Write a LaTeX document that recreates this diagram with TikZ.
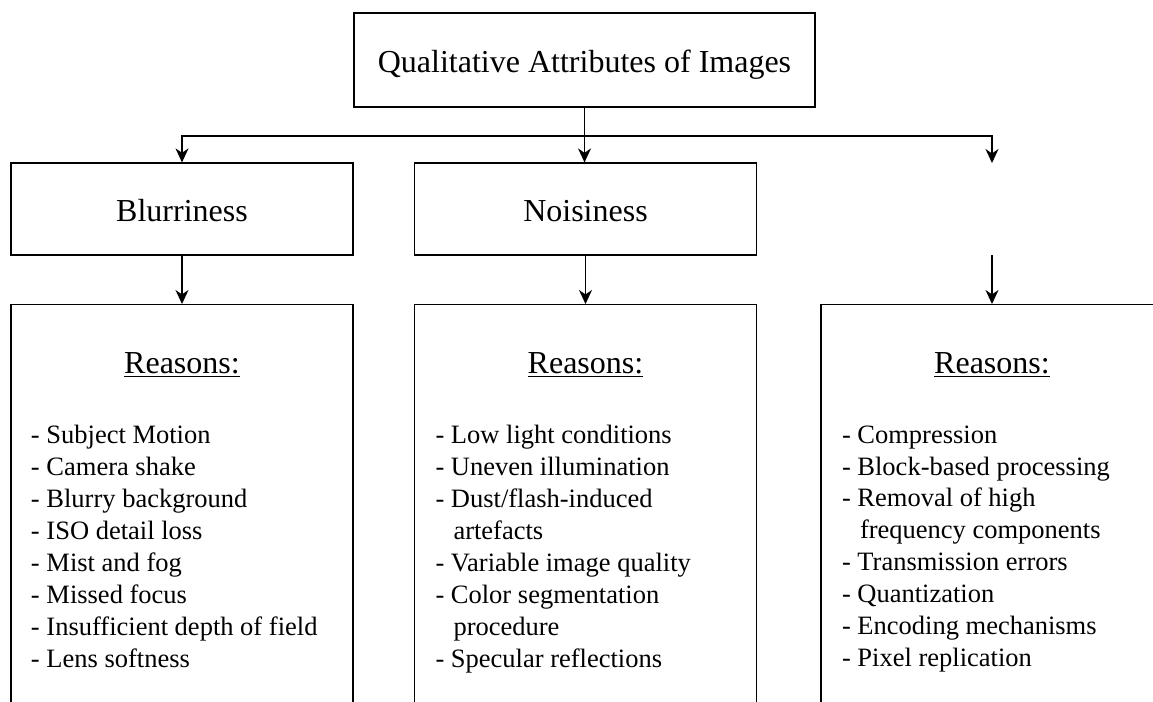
\documentclass[tikz,border=0pt]{standalone}
\usepackage{fontspec}
\setmainfont{Liberation Serif}
\usetikzlibrary{arrows.meta,positioning}

\begin{document}
\begin{tikzpicture}[x=0.5pt, y=-0.5pt, line width=0.6pt,
      >={Stealth[length=7pt, width=6.5pt, inset=2.2pt]},
      headbox/.style={draw, minimum width=230.5pt, minimum height=47pt, inner sep=0pt,
                      font=\fontsize{16}{19}\selectfont, text height=12pt, text depth=0pt},
      attrbox/.style={draw, minimum width=171pt, minimum height=46pt, inner sep=0pt,
                      font=\fontsize{16}{19}\selectfont, text height=12pt, text depth=0pt},
      reasonbox/.style={draw, minimum width=171pt, minimum height=230pt, inner sep=0pt, anchor=north},
      reasonhead/.style={font=\fontsize{16}{19}\selectfont, inner sep=0pt, anchor=base},
      reasonlist/.style={font=\fontsize{13.25}{15.93}\selectfont, align=left, inner sep=0pt,
                         anchor=north west}
    ]
      \useasboundingbox (0,0) rectangle (1153,702);
      \clip (0,0) rectangle (1153,702);

      \node[headbox] (top) at (584.5,60) {Qualitative Attributes of Images};

      \node[attrbox] (blur) at (182,209) {Blurriness};
      \node[attrbox] (noise) at (585.5,209) {Noisiness};
      \coordinate (third in) at (992,163);
      \coordinate (third out) at (992,255);

      \node[reasonbox] (rb1) at (182,304) {};
      \node[reasonbox] (rb2) at (585.5,304) {};
      \node[reasonbox] (rb3) at (992,304) {};

      % tree connectors
      \coordinate (split) at (top.south |- 0,136);
      \draw (top.south) -- (split);
      \draw[->] (split) -| (blur.north);
      \draw[->] (split) -- (split |- noise.north);
      \draw[->] (split) -| (third in);
      \draw[->] (blur.south) -- (rb1.north);
      \draw[->] (noise.south) -- (rb2.north);
      \draw[->] (third out) -- (rb3.north);

      % reasons
      \node[reasonhead] (rh1) at ([yshift=-34.5pt]rb1.north) {\underline{Reasons:}};
      \node[reasonhead] (rh2) at ([yshift=-34.5pt]rb2.north) {\underline{Reasons:}};
      \node[reasonhead] (rh3) at ([yshift=-34.5pt]rb3.north) {\underline{Reasons:}};

      \node[reasonlist] (rl1) at ([xshift=10pt, yshift=-60.5pt]rb1.north west) {
        - Subject Motion\\
        - Camera shake\\
        - Blurry background\\
        - ISO detail loss\\
        - Mist and fog\\
        - Missed focus\\
        - Insufficient depth of field\\
        - Lens softness
      };
      \node[reasonlist] (rl2) at ([xshift=10.5pt, yshift=-60.5pt]rb2.north west) {
        - Low light conditions\\
        - Uneven illumination\\
        - Dust/flash-induced\\
        \hspace*{9pt}artefacts\\
        - Variable image quality\\
        - Color segmentation\\
        \hspace*{9pt}procedure\\
        - Specular reflections
      };
      \node[reasonlist] (rl3) at ([xshift=10.5pt, yshift=-60.5pt]rb3.north west) {
        - Compression\\
        - Block-based processing\\
        - Removal of high\\
        \hspace*{9pt}frequency components\\
        - Transmission errors\\
        - Quantization\\
        - Encoding mechanisms\\
        - Pixel replication
      };
    \end{tikzpicture}
\end{document}
